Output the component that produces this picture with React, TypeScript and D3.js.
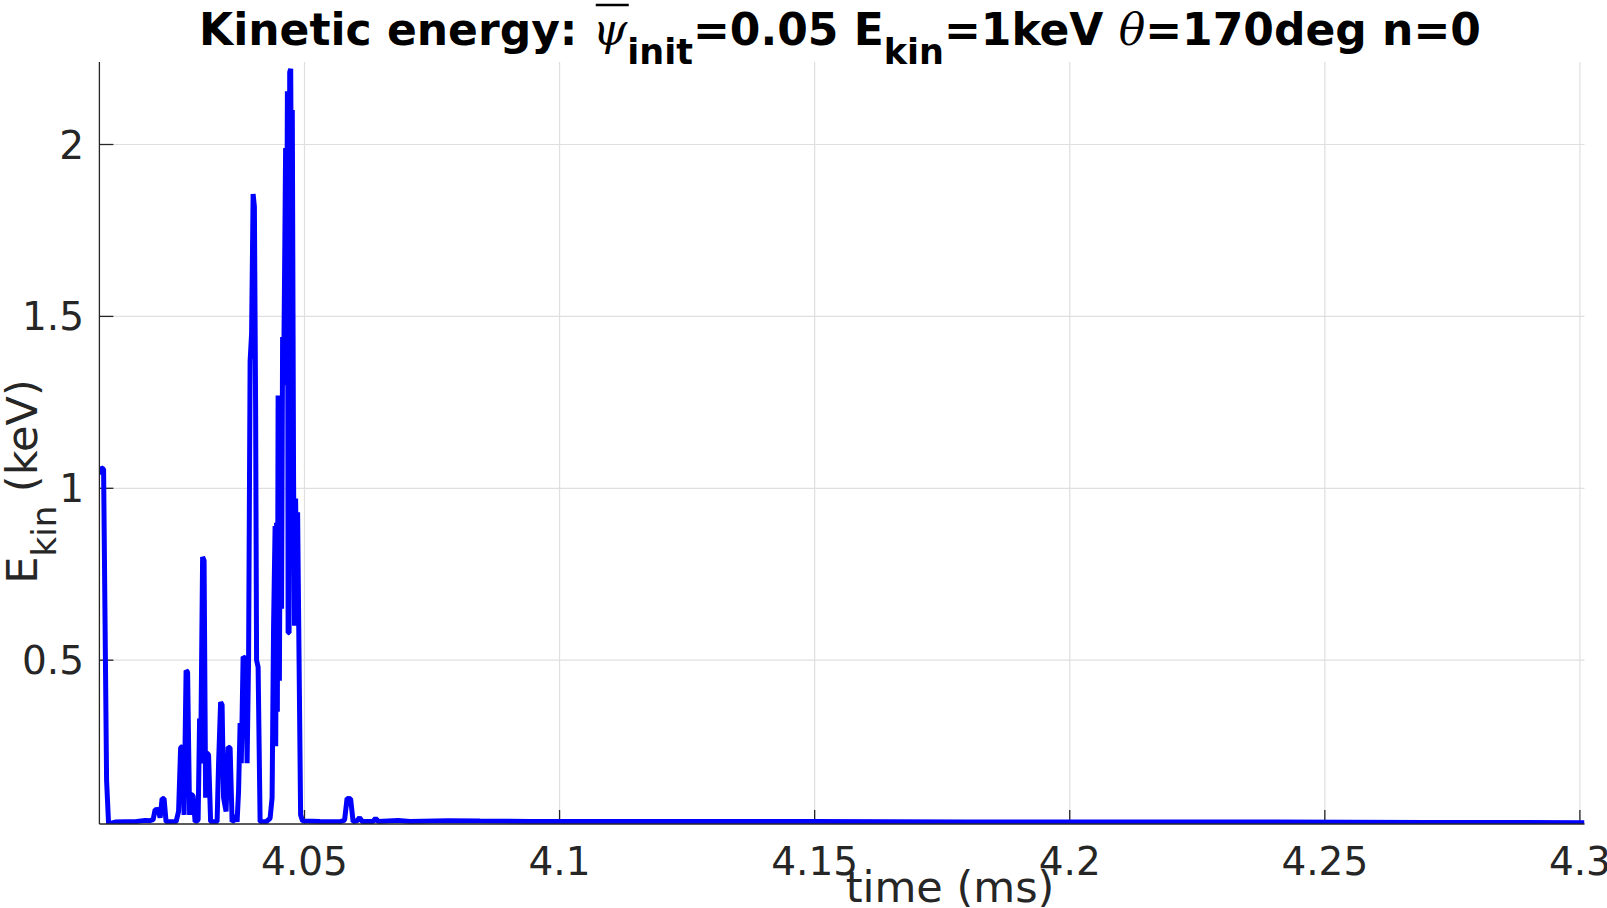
import * as d3 from 'd3';
import { useLayoutEffect, useRef, useState } from 'react';

// Kinetic energy trace (time in ms, energy in keV)
const burstTime = [
  4.00982, 4.01013, 4.01062, 4.01121, 4.0116, 4.01288, 4.01484, 4.0168, 4.01876, 4.01974,
  4.02033, 4.02072, 4.02131, 4.0217, 4.02209, 4.02248, 4.02287, 4.02483, 4.02532, 4.02572,
  4.02611, 4.0264, 4.02679, 4.02709, 4.02748, 4.02777, 4.02817, 4.02856, 4.02915, 4.02944,
  4.02964, 4.03003, 4.03032, 4.03062, 4.03081, 4.0312, 4.0316, 4.03287, 4.03316, 4.03356,
  4.03385, 4.03414, 4.03463, 4.03503, 4.03542, 4.03581, 4.0363, 4.0365, 4.03679, 4.03708,
  4.03738, 4.03761, 4.03797, 4.03846, 4.03875, 4.03904, 4.03934, 4.03963, 4.03993, 4.04018,
  4.04042, 4.04061, 4.04091, 4.0413, 4.04247, 4.04326, 4.04365, 4.04394, 4.04424, 4.04436,
  4.04453, 4.04468, 4.04483, 4.04508, 4.04532, 4.04551, 4.04571, 4.0459, 4.0461, 4.0463,
  4.04649, 4.04665, 4.04679, 4.04698, 4.0471, 4.0473, 4.04747, 4.04761, 4.04786, 4.04805,
  4.04826, 4.04845, 4.04865, 4.04924, 4.04963,
];
const burstEnergy = [
  1.04, 1.06, 1.055, 0.15, 0.024, 0.029, 0.03, 0.03, 0.034, 0.033,
  0.036, 0.065, 0.066, 0.042, 0.098, 0.097, 0.03, 0.03, 0.06, 0.245,
  0.25, 0.05, 0.47, 0.465, 0.05, 0.11, 0.105, 0.03, 0.035, 0.33,
  0.2, 0.8, 0.79, 0.1, 0.23, 0.225, 0.03, 0.03, 0.2, 0.378,
  0.37, 0.1, 0.06, 0.247, 0.245, 0.03, 0.035, 0.05, 0.03, 0.12,
  0.317, 0.2, 0.51, 0.505, 0.2, 0.5, 1.37, 1.45, 1.856, 1.82,
  1.23, 0.5, 0.48, 0.03, 0.03, 0.04, 0.1, 0.6, 0.89, 0.25,
  0.9, 0.35, 1.27, 0.44, 1.27, 0.65, 1.44, 1.3, 1.63, 1.99,
  1.52, 2.155, 0.58, 0.58, 2.21, 2.22, 1.67, 2.1, 1.03, 0.6,
  0.97, 0.7, 0.93, 0.05, 0.032,
];
const tailTime = [
  4.05306, 4.05698, 4.05786, 4.05835, 4.05904, 4.05953, 4.06031, 4.0608, 4.06129, 4.06345,
  4.06394, 4.06443, 4.06835, 4.0707, 4.07815, 4.08442, 4.09422, 4.12, 4.15, 4.18,
  4.21, 4.24, 4.27, 4.3009,
];
const tailEnergy = [
  0.031, 0.03, 0.035, 0.098, 0.097, 0.03, 0.033, 0.042, 0.031, 0.031,
  0.04, 0.031, 0.034, 0.031, 0.033, 0.032, 0.031, 0.0305, 0.031, 0.0295,
  0.0295, 0.029, 0.028, 0.0275,
];

const xTicks = [4.05, 4.1, 4.15, 4.2, 4.25, 4.3];
const xTickLabels = ['4.05', '4.1', '4.15', '4.2', '4.25', '4.3'];
const yTicks = [0.5, 1, 1.5, 2];
const yTickLabels = ['0.5', '1', '1.5', '2'];

const W = 1607;
const H = 908;
const box = { left: 99.4, right: 1584.5, top: 62, bottom: 824 };
const axisColor = '#262626';
const gridColor = '#dfdfdf';
const font = '"DejaVu Sans", sans-serif';
const greek = '"DejaVu Serif", serif';

export default function App() {
  const psiRef = useRef<SVGTSpanElement>(null);
  const [bar, setBar] = useState<{ x1: number; x2: number } | null>(null);

  useLayoutEffect(() => {
    if (!psiRef.current) return;
    const b = psiRef.current.getBBox();
    setBar({ x1: b.x + 3, x2: b.x + b.width + 1 });
  }, []);

  const x = d3.scaleLinear().domain([4.0098, 4.3009]).range([box.left, box.right]);
  const y = d3.scaleLinear().domain([0.0235, 2.24]).range([box.bottom, box.top]);

  const times = [...burstTime, ...tailTime];
  const energy = [...burstEnergy, ...tailEnergy];
  const pts: [number, number][] = times.map((t, i) => [t, energy[i]]);

  const line = d3
    .line<[number, number]>()
    .x((d) => x(d[0]))
    .y((d) => y(d[1]));

  const tickLen = 14;

  return (
    <svg
      width={W}
      height={H}
      style={{ position: 'absolute', left: 0, top: 0, background: '#fff' }}
    >
      <defs>
        <clipPath id="plotClip">
          <rect x={box.left} y={box.top} width={box.right - box.left} height={box.bottom - box.top} />
        </clipPath>
      </defs>
      <rect width={W} height={H} fill="#fff" />

      {/* grid */}
      {xTicks.map((t) => (
        <line key={'gx' + t} x1={x(t)} x2={x(t)} y1={box.top} y2={box.bottom} stroke={gridColor} strokeWidth={1.2} />
      ))}
      {yTicks.map((t) => (
        <line key={'gy' + t} x1={box.left} x2={box.right} y1={y(t)} y2={y(t)} stroke={gridColor} strokeWidth={1.2} />
      ))}

      {/* ticks */}
      {xTicks.map((t) => (
        <line key={'tx' + t} x1={x(t)} x2={x(t)} y1={box.bottom} y2={box.bottom - tickLen} stroke={axisColor} strokeWidth={1.3} />
      ))}
      {yTicks.map((t) => (
        <line key={'ty' + t} x1={box.left} x2={box.left + tickLen} y1={y(t)} y2={y(t)} stroke={axisColor} strokeWidth={1.3} />
      ))}

      {/* data */}
      <path
        d={line(pts) || ''}
        fill="none"
        stroke="#0000ff"
        strokeWidth={5}
        strokeLinejoin="bevel"
        clipPath="url(#plotClip)"
      />

      {/* axis lines */}
      <line x1={box.left} x2={box.left} y1={box.top} y2={box.bottom} stroke={axisColor} strokeWidth={1.3} />
      <line x1={box.left} x2={box.right} y1={box.bottom} y2={box.bottom} stroke={axisColor} strokeWidth={1.3} />

      {/* tick labels */}
      {xTicks.map((t, i) => (
        <text key={'lx' + t} x={x(t)} y={875} textAnchor="middle" fontFamily={font} fontSize={39} fill={axisColor}>
          {xTickLabels[i]}
        </text>
      ))}
      {yTicks.map((t, i) => (
        <text key={'ly' + t} x={84} y={y(t) + 14} textAnchor="end" fontFamily={font} fontSize={39} fill={axisColor}>
          {yTickLabels[i]}
        </text>
      ))}

      {/* axis labels */}
      <text x={950} y={902} textAnchor="middle" fontFamily={font} fontSize={43} fill={axisColor}>
        time (ms)
      </text>
      <text
        transform="translate(37,481.5) rotate(-90)"
        textAnchor="middle"
        fontFamily={font}
        fontSize={43}
        fill={axisColor}
      >
        E
        <tspan dy={19} fontSize={34}>kin</tspan>
        <tspan dy={-19}> (keV)</tspan>
      </text>

      {/* title */}
      <text x={840} y={44.5} textAnchor="middle" fontFamily={font} fontSize={44} fontWeight="bold" fill="#000">
        {'Kinetic energy: '}
        <tspan ref={psiRef} fontFamily={greek} fontStyle="italic" fontWeight="normal">ψ</tspan>
        <tspan dy={19} fontSize={35}>init</tspan>
        <tspan dy={-19}>=0.05 E</tspan>
        <tspan dy={19} fontSize={35}>kin</tspan>
        <tspan dy={-19}>{'=1keV '}</tspan>
        <tspan fontFamily={greek} fontStyle="italic" fontWeight="normal">θ</tspan>
        <tspan>=170deg n=0</tspan>
      </text>
      {bar && <line x1={bar.x1} x2={bar.x2} y1={5} y2={5} stroke="#000" strokeWidth={2.6} />}
    </svg>
  );
}
